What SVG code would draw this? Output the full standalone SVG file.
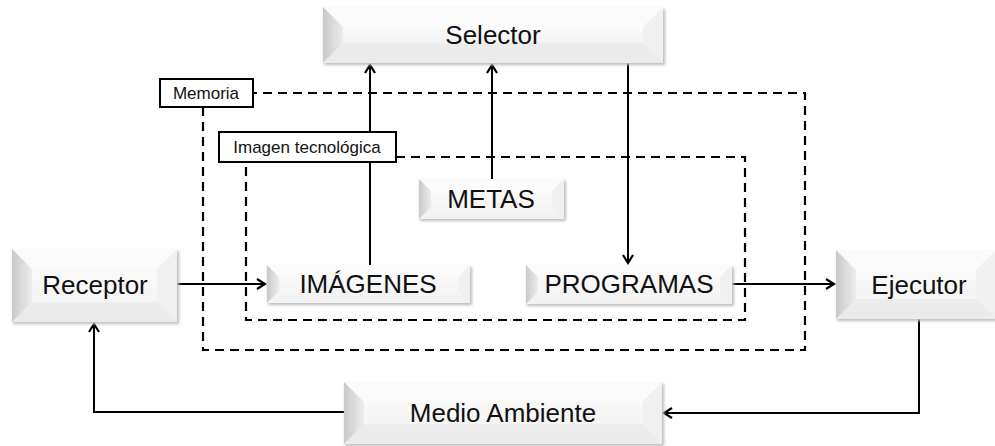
<svg xmlns="http://www.w3.org/2000/svg" width="995" height="446" viewBox="0 0 995 446">
<style>
.t{font-family:"Liberation Sans",Arial,sans-serif;fill:#111;text-anchor:middle;dominant-baseline:central}
.big{font-size:26px}
.small{font-size:17px}
.face{fill:url(#face)}
.bl{fill:url(#bl)}
.bt{fill:#fbfbfb}
.br{fill:#f0f0f0}
.bb{fill:#e4e4e4}
.shad{fill:#bdbdbd;filter:url(#blur)}
.conn{stroke:#000;stroke-width:2;fill:none}
.dash{stroke:#000;stroke-width:2.2;fill:none;stroke-dasharray:9 6}
.lab{fill:#fff;stroke:#000;stroke-width:2}
</style>
<defs>
<linearGradient id="face" x1="0" y1="0" x2="0" y2="1"><stop offset="0" stop-color="#fdfdfd"/><stop offset="1" stop-color="#f1f1f1"/></linearGradient>
<linearGradient id="bl" x1="0" y1="0" x2="1" y2="0"><stop offset="0" stop-color="#c9c9c9"/><stop offset="1" stop-color="#ececec"/></linearGradient>
<filter id="blur" x="-10%" y="-10%" width="120%" height="130%"><feGaussianBlur stdDeviation="1.5"/></filter>
<marker id="ah" viewBox="0 0 12 12" refX="10" refY="6" markerWidth="12" markerHeight="12" markerUnits="userSpaceOnUse" orient="auto">
<path d="M2,1 L10,6 L2,11" fill="none" stroke="#000" stroke-width="2.2"/>
</marker>
</defs>
<rect width="995" height="446" fill="#fff"/>

<g id="memoria-region">
<rect class="dash" x="203" y="93" width="602" height="257"/>
</g>
<g id="imagen-region">
<rect class="dash" x="246" y="157" width="499" height="163"/>
</g>

<g id="connectors">
<line class="conn" x1="177" y1="284" x2="265" y2="284" marker-end="url(#ah)"/>
<line class="conn" x1="370" y1="265" x2="370" y2="65" marker-end="url(#ah)"/>
<line class="conn" x1="492" y1="179" x2="492" y2="65" marker-end="url(#ah)"/>
<line class="conn" x1="628" y1="63" x2="628" y2="263" marker-end="url(#ah)"/>
<line class="conn" x1="732" y1="284" x2="834" y2="284" marker-end="url(#ah)"/>
<polyline class="conn" points="919,319 919,413 664,413" marker-end="url(#ah)"/>
<polyline class="conn" points="344,412 94,412 94,324" marker-end="url(#ah)"/>
</g>

<g id="memoria-label">
<rect class="lab" x="160" y="79" width="93" height="28"/>
<text class="t small" x="206" y="93">Memoria</text>
</g>
<g id="imagen-label">
<rect class="lab" x="219" y="132" width="177" height="30"/>
<text class="t small" x="307" y="147">Imagen tecnológica</text>
</g>

<g id="selector">
<rect class="shad" x="324" y="9" width="341" height="56"/>
<rect class="face" x="323" y="7" width="340" height="56"/>
<polygon class="bt" points="323,7 663,7 643,27 343,27"/>
<polygon class="br" points="663,7 663,63 643,43 643,27"/>
<polygon class="bb" points="323,63 663,63 643,43 343,43" opacity="0.5"/>
<polygon class="bl" points="323,7 343,27 343,43 323,63"/>
<rect class="face" x="343" y="27" width="300" height="16" opacity="0.6"/>
<text class="t big" x="493" y="35">Selector</text>
</g>

<g id="receptor">
<rect class="shad" x="13" y="251" width="166" height="73"/>
<rect class="face" x="12" y="249" width="165" height="73"/>
<polygon class="bt" points="12,249 177,249 157,269 32,269"/>
<polygon class="br" points="177,249 177,322 157,302 157,269"/>
<polygon class="bb" points="12,322 177,322 157,302 32,302" opacity="0.5"/>
<polygon class="bl" points="12,249 32,269 32,302 12,322"/>
<text class="t big" x="95" y="285">Receptor</text>
</g>

<g id="imagenes">
<rect class="shad" x="268" y="267" width="204" height="38"/>
<rect class="face" x="267" y="265" width="203" height="38"/>
<polygon class="bt" points="267,265 470,265 458,277 279,277"/>
<polygon class="br" points="470,265 470,303 458,291 458,277"/>
<polygon class="bl" points="267,265 279,277 279,291 267,303"/>
<text class="t big" x="368" y="284">IMÁGENES</text>
</g>

<g id="metas">
<rect class="shad" x="420" y="181" width="146" height="40"/>
<rect class="face" x="419" y="179" width="145" height="40"/>
<polygon class="bt" points="419,179 564,179 552,191 431,191"/>
<polygon class="br" points="564,179 564,219 552,207 552,191"/>
<polygon class="bl" points="419,179 431,191 431,207 419,219"/>
<text class="t big" x="491" y="199">METAS</text>
</g>

<g id="programas">
<rect class="shad" x="527" y="267" width="207" height="39"/>
<rect class="face" x="526" y="265" width="206" height="39"/>
<polygon class="bt" points="526,265 732,265 720,277 538,277"/>
<polygon class="br" points="732,265 732,304 720,292 720,277"/>
<polygon class="bl" points="526,265 538,277 538,292 526,304"/>
<text class="t big" x="629" y="284">PROGRAMAS</text>
</g>

<g id="ejecutor">
<rect class="shad" x="837" y="252" width="160" height="69"/>
<rect class="face" x="836" y="250" width="160" height="69"/>
<polygon class="bt" points="836,250 996,250 976,270 856,270"/>
<polygon class="br" points="996,250 996,319 976,299 976,270"/>
<polygon class="bb" points="836,319 996,319 976,299 856,299" opacity="0.5"/>
<polygon class="bl" points="836,250 856,270 856,299 836,319"/>
<text class="t big" x="919" y="285">Ejecutor</text>
</g>

<g id="medio-ambiente">
<rect class="shad" x="345" y="384" width="319" height="62"/>
<rect class="face" x="344" y="382" width="318" height="62"/>
<polygon class="bt" points="344,382 662,382 642,402 364,402"/>
<polygon class="br" points="662,382 662,444 642,424 642,402"/>
<polygon class="bb" points="344,444 662,444 642,424 364,424" opacity="0.5"/>
<polygon class="bl" points="344,382 364,402 364,424 344,444"/>
<text class="t big" x="503" y="413">Medio Ambiente</text>
</g>
</svg>
